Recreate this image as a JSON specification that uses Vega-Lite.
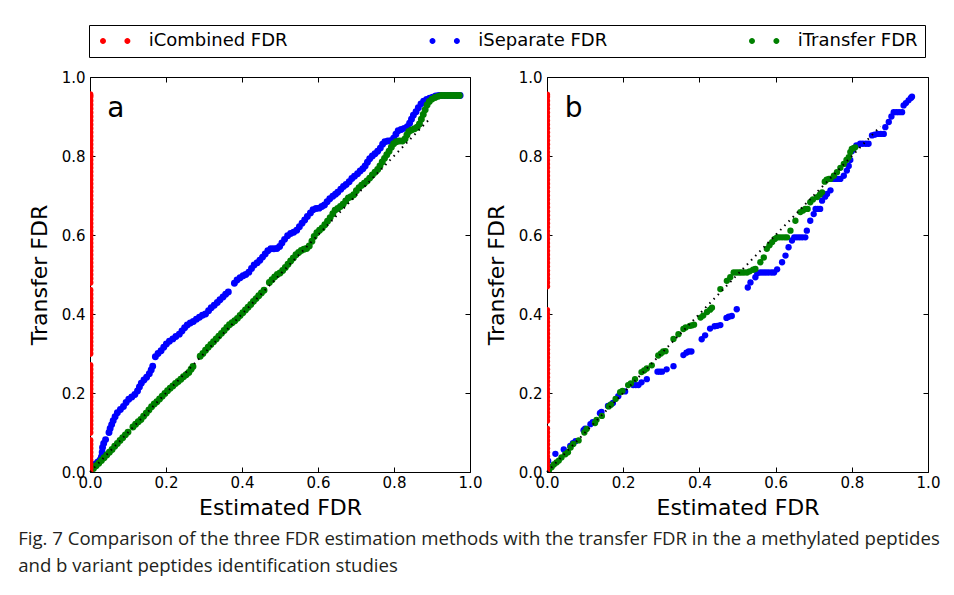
{
"$schema": "https://vega.github.io/schema/vega-lite/v6.json",
"padding": {"left": 18, "top": 24, "right": 10, "bottom": 10},
"datasets": {
"pts": [
{"p":"a","s":"S","x":0.002,"y":0.008},{"p":"a","s":"S","x":0.008,"y":0.014},{"p":"a","s":"S","x":0.014,"y":0.02},{"p":"a","s":"S","x":0.02,"y":0.025},{"p":"a","s":"S","x":0.026,"y":0.03},{"p":"a","s":"S","x":0.03,"y":0.038},{"p":"a","s":"S","x":0.032,"y":0.05},{"p":"a","s":"S","x":0.033,"y":0.062},{"p":"a","s":"S","x":0.036,"y":0.072},{"p":"a","s":"S","x":0.041,"y":0.082},
{"p":"a","s":"S","x":0.05,"y":0.1},{"p":"a","s":"S","x":0.053,"y":0.11},{"p":"a","s":"S","x":0.057,"y":0.12},{"p":"a","s":"S","x":0.061,"y":0.13},{"p":"a","s":"S","x":0.066,"y":0.14},{"p":"a","s":"S","x":0.072,"y":0.15},{"p":"a","s":"S","x":0.08,"y":0.158},{"p":"a","s":"S","x":0.088,"y":0.166},{"p":"a","s":"S","x":0.095,"y":0.176},{"p":"a","s":"S","x":0.102,"y":0.184},
{"p":"a","s":"S","x":0.11,"y":0.19},{"p":"a","s":"S","x":0.118,"y":0.196},{"p":"a","s":"S","x":0.125,"y":0.205},{"p":"a","s":"S","x":0.13,"y":0.215},{"p":"a","s":"S","x":0.135,"y":0.225},{"p":"a","s":"S","x":0.142,"y":0.233},{"p":"a","s":"S","x":0.149,"y":0.24},{"p":"a","s":"S","x":0.156,"y":0.249},{"p":"a","s":"S","x":0.161,"y":0.258},{"p":"a","s":"S","x":0.165,"y":0.268},
{"p":"a","s":"S","x":0.172,"y":0.292},{"p":"a","s":"S","x":0.179,"y":0.3},{"p":"a","s":"S","x":0.187,"y":0.307},{"p":"a","s":"S","x":0.194,"y":0.316},{"p":"a","s":"S","x":0.201,"y":0.324},{"p":"a","s":"S","x":0.209,"y":0.331},{"p":"a","s":"S","x":0.218,"y":0.337},{"p":"a","s":"S","x":0.226,"y":0.343},{"p":"a","s":"S","x":0.235,"y":0.349},{"p":"a","s":"S","x":0.242,"y":0.357},
{"p":"a","s":"S","x":0.249,"y":0.365},{"p":"a","s":"S","x":0.256,"y":0.372},{"p":"a","s":"S","x":0.264,"y":0.377},{"p":"a","s":"S","x":0.272,"y":0.381},{"p":"a","s":"S","x":0.28,"y":0.387},{"p":"a","s":"S","x":0.288,"y":0.392},{"p":"a","s":"S","x":0.296,"y":0.397},{"p":"a","s":"S","x":0.304,"y":0.4},{"p":"a","s":"S","x":0.312,"y":0.408},{"p":"a","s":"S","x":0.319,"y":0.416},
{"p":"a","s":"S","x":0.327,"y":0.422},{"p":"a","s":"S","x":0.335,"y":0.429},{"p":"a","s":"S","x":0.342,"y":0.436},{"p":"a","s":"S","x":0.35,"y":0.443},{"p":"a","s":"S","x":0.357,"y":0.45},{"p":"a","s":"S","x":0.364,"y":0.456},
{"p":"a","s":"S","x":0.38,"y":0.478},{"p":"a","s":"S","x":0.387,"y":0.486},{"p":"a","s":"S","x":0.395,"y":0.492},{"p":"a","s":"S","x":0.403,"y":0.497},{"p":"a","s":"S","x":0.41,"y":0.5},{"p":"a","s":"S","x":0.418,"y":0.506},{"p":"a","s":"S","x":0.425,"y":0.515},{"p":"a","s":"S","x":0.432,"y":0.524},{"p":"a","s":"S","x":0.44,"y":0.53},{"p":"a","s":"S","x":0.447,"y":0.536},
{"p":"a","s":"S","x":0.454,"y":0.544},{"p":"a","s":"S","x":0.461,"y":0.552},{"p":"a","s":"S","x":0.468,"y":0.56},{"p":"a","s":"S","x":0.476,"y":0.565},{"p":"a","s":"S","x":0.484,"y":0.565},{"p":"a","s":"S","x":0.492,"y":0.566},{"p":"a","s":"S","x":0.499,"y":0.571},{"p":"a","s":"S","x":0.505,"y":0.58},{"p":"a","s":"S","x":0.512,"y":0.589},{"p":"a","s":"S","x":0.52,"y":0.598},
{"p":"a","s":"S","x":0.528,"y":0.604},{"p":"a","s":"S","x":0.536,"y":0.607},{"p":"a","s":"S","x":0.544,"y":0.612},{"p":"a","s":"S","x":0.551,"y":0.621},{"p":"a","s":"S","x":0.558,"y":0.63},{"p":"a","s":"S","x":0.565,"y":0.638},{"p":"a","s":"S","x":0.572,"y":0.647},{"p":"a","s":"S","x":0.58,"y":0.656},{"p":"a","s":"S","x":0.587,"y":0.664},{"p":"a","s":"S","x":0.595,"y":0.667},
{"p":"a","s":"S","x":0.603,"y":0.668},{"p":"a","s":"S","x":0.61,"y":0.672},{"p":"a","s":"S","x":0.617,"y":0.676},{"p":"a","s":"S","x":0.624,"y":0.684},{"p":"a","s":"S","x":0.631,"y":0.692},{"p":"a","s":"S","x":0.639,"y":0.698},{"p":"a","s":"S","x":0.646,"y":0.703},{"p":"a","s":"S","x":0.652,"y":0.708},{"p":"a","s":"S","x":0.66,"y":0.716},{"p":"a","s":"S","x":0.667,"y":0.723},
{"p":"a","s":"S","x":0.674,"y":0.728},{"p":"a","s":"S","x":0.682,"y":0.735},{"p":"a","s":"S","x":0.689,"y":0.743},{"p":"a","s":"S","x":0.696,"y":0.749},{"p":"a","s":"S","x":0.704,"y":0.755},{"p":"a","s":"S","x":0.711,"y":0.762},{"p":"a","s":"S","x":0.718,"y":0.768},{"p":"a","s":"S","x":0.724,"y":0.775},{"p":"a","s":"S","x":0.73,"y":0.784},{"p":"a","s":"S","x":0.736,"y":0.793},
{"p":"a","s":"S","x":0.743,"y":0.8},{"p":"a","s":"S","x":0.75,"y":0.806},{"p":"a","s":"S","x":0.757,"y":0.812},{"p":"a","s":"S","x":0.764,"y":0.82},{"p":"a","s":"S","x":0.77,"y":0.83},{"p":"a","s":"S","x":0.776,"y":0.836},{"p":"a","s":"S","x":0.784,"y":0.838},{"p":"a","s":"S","x":0.792,"y":0.839},{"p":"a","s":"S","x":0.799,"y":0.845},{"p":"a","s":"S","x":0.805,"y":0.855},
{"p":"a","s":"S","x":0.811,"y":0.864},{"p":"a","s":"S","x":0.819,"y":0.867},{"p":"a","s":"S","x":0.827,"y":0.87},{"p":"a","s":"S","x":0.835,"y":0.874},{"p":"a","s":"S","x":0.841,"y":0.883},{"p":"a","s":"S","x":0.846,"y":0.893},{"p":"a","s":"S","x":0.851,"y":0.903},{"p":"a","s":"S","x":0.858,"y":0.912},{"p":"a","s":"S","x":0.864,"y":0.922},{"p":"a","s":"S","x":0.871,"y":0.932},
{"p":"a","s":"S","x":0.878,"y":0.939},{"p":"a","s":"S","x":0.886,"y":0.943},{"p":"a","s":"S","x":0.894,"y":0.946},{"p":"a","s":"S","x":0.902,"y":0.949},{"p":"a","s":"S","x":0.91,"y":0.952},{"p":"a","s":"S","x":0.918,"y":0.953},{"p":"a","s":"S","x":0.926,"y":0.953},{"p":"a","s":"S","x":0.934,"y":0.953},{"p":"a","s":"S","x":0.942,"y":0.953},{"p":"a","s":"S","x":0.95,"y":0.953},
{"p":"a","s":"S","x":0.958,"y":0.953},{"p":"a","s":"S","x":0.966,"y":0.953},{"p":"a","s":"S","x":0.974,"y":0.953},
{"p":"a","s":"T","x":0.002,"y":0.002},{"p":"a","s":"T","x":0.009,"y":0.009},{"p":"a","s":"T","x":0.016,"y":0.016},{"p":"a","s":"T","x":0.023,"y":0.022},{"p":"a","s":"T","x":0.03,"y":0.029},{"p":"a","s":"T","x":0.037,"y":0.036},{"p":"a","s":"T","x":0.044,"y":0.043},{"p":"a","s":"T","x":0.051,"y":0.05},{"p":"a","s":"T","x":0.058,"y":0.057},{"p":"a","s":"T","x":0.065,"y":0.065},
{"p":"a","s":"T","x":0.072,"y":0.072},{"p":"a","s":"T","x":0.079,"y":0.08},{"p":"a","s":"T","x":0.086,"y":0.087},{"p":"a","s":"T","x":0.093,"y":0.094},{"p":"a","s":"T","x":0.1,"y":0.101},
{"p":"a","s":"T","x":0.113,"y":0.114},{"p":"a","s":"T","x":0.12,"y":0.121},{"p":"a","s":"T","x":0.127,"y":0.127},{"p":"a","s":"T","x":0.134,"y":0.133},{"p":"a","s":"T","x":0.141,"y":0.141},{"p":"a","s":"T","x":0.148,"y":0.149},{"p":"a","s":"T","x":0.155,"y":0.157},{"p":"a","s":"T","x":0.162,"y":0.165},{"p":"a","s":"T","x":0.169,"y":0.172},{"p":"a","s":"T","x":0.176,"y":0.178},
{"p":"a","s":"T","x":0.183,"y":0.185},{"p":"a","s":"T","x":0.19,"y":0.192},{"p":"a","s":"T","x":0.197,"y":0.199},{"p":"a","s":"T","x":0.204,"y":0.206},{"p":"a","s":"T","x":0.211,"y":0.212},{"p":"a","s":"T","x":0.218,"y":0.218},{"p":"a","s":"T","x":0.225,"y":0.224},{"p":"a","s":"T","x":0.232,"y":0.229},{"p":"a","s":"T","x":0.239,"y":0.235},{"p":"a","s":"T","x":0.246,"y":0.241},
{"p":"a","s":"T","x":0.253,"y":0.246},{"p":"a","s":"T","x":0.26,"y":0.252},{"p":"a","s":"T","x":0.266,"y":0.26},{"p":"a","s":"T","x":0.271,"y":0.267},
{"p":"a","s":"T","x":0.29,"y":0.293},{"p":"a","s":"T","x":0.297,"y":0.3},{"p":"a","s":"T","x":0.304,"y":0.308},{"p":"a","s":"T","x":0.311,"y":0.316},{"p":"a","s":"T","x":0.318,"y":0.323},{"p":"a","s":"T","x":0.325,"y":0.33},{"p":"a","s":"T","x":0.332,"y":0.337},{"p":"a","s":"T","x":0.339,"y":0.344},{"p":"a","s":"T","x":0.346,"y":0.351},{"p":"a","s":"T","x":0.353,"y":0.358},
{"p":"a","s":"T","x":0.36,"y":0.366},{"p":"a","s":"T","x":0.367,"y":0.373},{"p":"a","s":"T","x":0.374,"y":0.378},{"p":"a","s":"T","x":0.381,"y":0.383},{"p":"a","s":"T","x":0.388,"y":0.389},{"p":"a","s":"T","x":0.395,"y":0.396},{"p":"a","s":"T","x":0.402,"y":0.403},{"p":"a","s":"T","x":0.409,"y":0.41},{"p":"a","s":"T","x":0.416,"y":0.417},{"p":"a","s":"T","x":0.423,"y":0.424},
{"p":"a","s":"T","x":0.43,"y":0.432},{"p":"a","s":"T","x":0.437,"y":0.439},{"p":"a","s":"T","x":0.444,"y":0.446},{"p":"a","s":"T","x":0.451,"y":0.453},{"p":"a","s":"T","x":0.458,"y":0.46},
{"p":"a","s":"T","x":0.472,"y":0.48},{"p":"a","s":"T","x":0.479,"y":0.487},{"p":"a","s":"T","x":0.486,"y":0.494},{"p":"a","s":"T","x":0.493,"y":0.5},{"p":"a","s":"T","x":0.5,"y":0.504},{"p":"a","s":"T","x":0.507,"y":0.51},{"p":"a","s":"T","x":0.514,"y":0.518},{"p":"a","s":"T","x":0.521,"y":0.526},{"p":"a","s":"T","x":0.528,"y":0.534},{"p":"a","s":"T","x":0.535,"y":0.542},
{"p":"a","s":"T","x":0.542,"y":0.55},{"p":"a","s":"T","x":0.549,"y":0.556},{"p":"a","s":"T","x":0.556,"y":0.561},{"p":"a","s":"T","x":0.563,"y":0.564},{"p":"a","s":"T","x":0.57,"y":0.566},{"p":"a","s":"T","x":0.577,"y":0.572},{"p":"a","s":"T","x":0.584,"y":0.584},{"p":"a","s":"T","x":0.59,"y":0.596},{"p":"a","s":"T","x":0.597,"y":0.606},{"p":"a","s":"T","x":0.604,"y":0.612},
{"p":"a","s":"T","x":0.611,"y":0.618},{"p":"a","s":"T","x":0.618,"y":0.626},{"p":"a","s":"T","x":0.625,"y":0.635},{"p":"a","s":"T","x":0.632,"y":0.644},{"p":"a","s":"T","x":0.639,"y":0.654},{"p":"a","s":"T","x":0.645,"y":0.663},{"p":"a","s":"T","x":0.652,"y":0.667},{"p":"a","s":"T","x":0.659,"y":0.672},{"p":"a","s":"T","x":0.666,"y":0.678},{"p":"a","s":"T","x":0.673,"y":0.686},
{"p":"a","s":"T","x":0.68,"y":0.694},{"p":"a","s":"T","x":0.687,"y":0.697},{"p":"a","s":"T","x":0.694,"y":0.702},{"p":"a","s":"T","x":0.701,"y":0.712},{"p":"a","s":"T","x":0.708,"y":0.72},{"p":"a","s":"T","x":0.715,"y":0.726},{"p":"a","s":"T","x":0.722,"y":0.731},{"p":"a","s":"T","x":0.729,"y":0.737},{"p":"a","s":"T","x":0.736,"y":0.744},{"p":"a","s":"T","x":0.743,"y":0.752},
{"p":"a","s":"T","x":0.75,"y":0.759},{"p":"a","s":"T","x":0.757,"y":0.766},{"p":"a","s":"T","x":0.763,"y":0.775},{"p":"a","s":"T","x":0.769,"y":0.785},{"p":"a","s":"T","x":0.775,"y":0.794},{"p":"a","s":"T","x":0.781,"y":0.803},{"p":"a","s":"T","x":0.787,"y":0.812},{"p":"a","s":"T","x":0.793,"y":0.822},{"p":"a","s":"T","x":0.799,"y":0.831},{"p":"a","s":"T","x":0.806,"y":0.836},
{"p":"a","s":"T","x":0.814,"y":0.838},{"p":"a","s":"T","x":0.822,"y":0.838},{"p":"a","s":"T","x":0.829,"y":0.843},{"p":"a","s":"T","x":0.834,"y":0.853},{"p":"a","s":"T","x":0.839,"y":0.862},{"p":"a","s":"T","x":0.846,"y":0.866},{"p":"a","s":"T","x":0.854,"y":0.869},{"p":"a","s":"T","x":0.861,"y":0.873},{"p":"a","s":"T","x":0.867,"y":0.881},{"p":"a","s":"T","x":0.872,"y":0.893},
{"p":"a","s":"T","x":0.877,"y":0.905},{"p":"a","s":"T","x":0.882,"y":0.917},{"p":"a","s":"T","x":0.887,"y":0.929},{"p":"a","s":"T","x":0.893,"y":0.938},{"p":"a","s":"T","x":0.9,"y":0.944},{"p":"a","s":"T","x":0.908,"y":0.948},{"p":"a","s":"T","x":0.916,"y":0.951},{"p":"a","s":"T","x":0.924,"y":0.953},{"p":"a","s":"T","x":0.932,"y":0.953},{"p":"a","s":"T","x":0.94,"y":0.953},
{"p":"a","s":"T","x":0.948,"y":0.953},{"p":"a","s":"T","x":0.956,"y":0.953},{"p":"a","s":"T","x":0.964,"y":0.953},{"p":"a","s":"T","x":0.972,"y":0.953},
{"p":"a","s":"C","x":0,"y":0},{"p":"a","s":"C","x":0,"y":0.01},{"p":"a","s":"C","x":0,"y":0.02},{"p":"a","s":"C","x":0,"y":0.03},{"p":"a","s":"C","x":0,"y":0.04},{"p":"a","s":"C","x":0,"y":0.05},{"p":"a","s":"C","x":0,"y":0.06},{"p":"a","s":"C","x":0,"y":0.07},{"p":"a","s":"C","x":0,"y":0.08},{"p":"a","s":"C","x":0,"y":0.1},
{"p":"a","s":"C","x":0,"y":0.11},{"p":"a","s":"C","x":0,"y":0.12},{"p":"a","s":"C","x":0,"y":0.13},{"p":"a","s":"C","x":0,"y":0.14},{"p":"a","s":"C","x":0,"y":0.15},{"p":"a","s":"C","x":0,"y":0.16},{"p":"a","s":"C","x":0,"y":0.17},{"p":"a","s":"C","x":0,"y":0.18},{"p":"a","s":"C","x":0,"y":0.19},{"p":"a","s":"C","x":0,"y":0.2},
{"p":"a","s":"C","x":0,"y":0.21},{"p":"a","s":"C","x":0,"y":0.22},{"p":"a","s":"C","x":0,"y":0.23},{"p":"a","s":"C","x":0,"y":0.24},{"p":"a","s":"C","x":0,"y":0.25},{"p":"a","s":"C","x":0,"y":0.26},{"p":"a","s":"C","x":0,"y":0.27},{"p":"a","s":"C","x":0,"y":0.3},{"p":"a","s":"C","x":0,"y":0.31},{"p":"a","s":"C","x":0,"y":0.32},
{"p":"a","s":"C","x":0,"y":0.33},{"p":"a","s":"C","x":0,"y":0.34},{"p":"a","s":"C","x":0,"y":0.35},{"p":"a","s":"C","x":0,"y":0.36},{"p":"a","s":"C","x":0,"y":0.37},{"p":"a","s":"C","x":0,"y":0.38},{"p":"a","s":"C","x":0,"y":0.39},{"p":"a","s":"C","x":0,"y":0.4},{"p":"a","s":"C","x":0,"y":0.41},{"p":"a","s":"C","x":0,"y":0.42},
{"p":"a","s":"C","x":0,"y":0.43},{"p":"a","s":"C","x":0,"y":0.44},{"p":"a","s":"C","x":0,"y":0.45},{"p":"a","s":"C","x":0,"y":0.46},{"p":"a","s":"C","x":0,"y":0.48},{"p":"a","s":"C","x":0,"y":0.49},{"p":"a","s":"C","x":0,"y":0.5},{"p":"a","s":"C","x":0,"y":0.51},{"p":"a","s":"C","x":0,"y":0.52},{"p":"a","s":"C","x":0,"y":0.53},
{"p":"a","s":"C","x":0,"y":0.54},{"p":"a","s":"C","x":0,"y":0.55},{"p":"a","s":"C","x":0,"y":0.56},{"p":"a","s":"C","x":0,"y":0.57},{"p":"a","s":"C","x":0,"y":0.58},{"p":"a","s":"C","x":0,"y":0.59},{"p":"a","s":"C","x":0,"y":0.6},{"p":"a","s":"C","x":0,"y":0.61},{"p":"a","s":"C","x":0,"y":0.62},{"p":"a","s":"C","x":0,"y":0.63},
{"p":"a","s":"C","x":0,"y":0.64},{"p":"a","s":"C","x":0,"y":0.65},{"p":"a","s":"C","x":0,"y":0.66},{"p":"a","s":"C","x":0,"y":0.67},{"p":"a","s":"C","x":0,"y":0.68},{"p":"a","s":"C","x":0,"y":0.69},{"p":"a","s":"C","x":0,"y":0.7},{"p":"a","s":"C","x":0,"y":0.71},{"p":"a","s":"C","x":0,"y":0.72},{"p":"a","s":"C","x":0,"y":0.73},
{"p":"a","s":"C","x":0,"y":0.74},{"p":"a","s":"C","x":0,"y":0.75},{"p":"a","s":"C","x":0,"y":0.76},{"p":"a","s":"C","x":0,"y":0.77},{"p":"a","s":"C","x":0,"y":0.78},{"p":"a","s":"C","x":0,"y":0.79},{"p":"a","s":"C","x":0,"y":0.8},{"p":"a","s":"C","x":0,"y":0.81},{"p":"a","s":"C","x":0,"y":0.82},{"p":"a","s":"C","x":0,"y":0.83},
{"p":"a","s":"C","x":0,"y":0.84},{"p":"a","s":"C","x":0,"y":0.85},{"p":"a","s":"C","x":0,"y":0.86},{"p":"a","s":"C","x":0,"y":0.87},{"p":"a","s":"C","x":0,"y":0.88},{"p":"a","s":"C","x":0,"y":0.89},{"p":"a","s":"C","x":0,"y":0.9},{"p":"a","s":"C","x":0,"y":0.91},{"p":"a","s":"C","x":0,"y":0.92},{"p":"a","s":"C","x":0,"y":0.93},
{"p":"a","s":"C","x":0,"y":0.94},{"p":"a","s":"C","x":0,"y":0.95},{"p":"a","s":"C","x":0,"y":0.955},
{"p":"b","s":"S","x":0.003,"y":0.005},{"p":"b","s":"S","x":0.003,"y":0.015},{"p":"b","s":"S","x":0.003,"y":0.028},{"p":"b","s":"S","x":0.022,"y":0.046},{"p":"b","s":"S","x":0.044,"y":0.057},{"p":"b","s":"S","x":0.061,"y":0.066},{"p":"b","s":"S","x":0.068,"y":0.073},{"p":"b","s":"S","x":0.075,"y":0.078},{"p":"b","s":"S","x":0.096,"y":0.106},{"p":"b","s":"S","x":0.1,"y":0.11},
{"p":"b","s":"S","x":0.114,"y":0.121},{"p":"b","s":"S","x":0.12,"y":0.126},{"p":"b","s":"S","x":0.139,"y":0.149},{"p":"b","s":"S","x":0.143,"y":0.152},{"p":"b","s":"S","x":0.16,"y":0.167},{"p":"b","s":"S","x":0.167,"y":0.17},{"p":"b","s":"S","x":0.173,"y":0.175},{"p":"b","s":"S","x":0.187,"y":0.192},{"p":"b","s":"S","x":0.205,"y":0.204},{"p":"b","s":"S","x":0.226,"y":0.22},
{"p":"b","s":"S","x":0.233,"y":0.22},{"p":"b","s":"S","x":0.24,"y":0.22},{"p":"b","s":"S","x":0.248,"y":0.227},{"p":"b","s":"S","x":0.262,"y":0.235},{"p":"b","s":"S","x":0.29,"y":0.254},{"p":"b","s":"S","x":0.296,"y":0.254},{"p":"b","s":"S","x":0.302,"y":0.254},{"p":"b","s":"S","x":0.314,"y":0.26},{"p":"b","s":"S","x":0.332,"y":0.268},{"p":"b","s":"S","x":0.358,"y":0.296},
{"p":"b","s":"S","x":0.366,"y":0.302},{"p":"b","s":"S","x":0.372,"y":0.305},{"p":"b","s":"S","x":0.379,"y":0.305},{"p":"b","s":"S","x":0.406,"y":0.336},{"p":"b","s":"S","x":0.415,"y":0.346},{"p":"b","s":"S","x":0.428,"y":0.363},{"p":"b","s":"S","x":0.44,"y":0.369},{"p":"b","s":"S","x":0.447,"y":0.37},{"p":"b","s":"S","x":0.455,"y":0.372},{"p":"b","s":"S","x":0.471,"y":0.39},
{"p":"b","s":"S","x":0.477,"y":0.393},{"p":"b","s":"S","x":0.485,"y":0.395},{"p":"b","s":"S","x":0.498,"y":0.412},{"p":"b","s":"S","x":0.527,"y":0.467},{"p":"b","s":"S","x":0.534,"y":0.48},{"p":"b","s":"S","x":0.547,"y":0.493},{"p":"b","s":"S","x":0.552,"y":0.503},{"p":"b","s":"S","x":0.56,"y":0.505},{"p":"b","s":"S","x":0.567,"y":0.505},{"p":"b","s":"S","x":0.574,"y":0.505},
{"p":"b","s":"S","x":0.581,"y":0.505},{"p":"b","s":"S","x":0.589,"y":0.505},{"p":"b","s":"S","x":0.596,"y":0.505},{"p":"b","s":"S","x":0.604,"y":0.513},{"p":"b","s":"S","x":0.617,"y":0.531},{"p":"b","s":"S","x":0.626,"y":0.548},{"p":"b","s":"S","x":0.634,"y":0.569},{"p":"b","s":"S","x":0.643,"y":0.586},{"p":"b","s":"S","x":0.649,"y":0.594},{"p":"b","s":"S","x":0.656,"y":0.594},
{"p":"b","s":"S","x":0.663,"y":0.594},{"p":"b","s":"S","x":0.67,"y":0.594},{"p":"b","s":"S","x":0.678,"y":0.594},{"p":"b","s":"S","x":0.682,"y":0.611},{"p":"b","s":"S","x":0.691,"y":0.636},{"p":"b","s":"S","x":0.7,"y":0.653},{"p":"b","s":"S","x":0.705,"y":0.666},{"p":"b","s":"S","x":0.711,"y":0.666},{"p":"b","s":"S","x":0.717,"y":0.666},{"p":"b","s":"S","x":0.722,"y":0.687},
{"p":"b","s":"S","x":0.73,"y":0.697},{"p":"b","s":"S","x":0.735,"y":0.704},{"p":"b","s":"S","x":0.744,"y":0.713},{"p":"b","s":"S","x":0.748,"y":0.742},{"p":"b","s":"S","x":0.755,"y":0.742},{"p":"b","s":"S","x":0.762,"y":0.742},{"p":"b","s":"S","x":0.77,"y":0.742},{"p":"b","s":"S","x":0.779,"y":0.75},{"p":"b","s":"S","x":0.787,"y":0.763},{"p":"b","s":"S","x":0.792,"y":0.775},
{"p":"b","s":"S","x":0.796,"y":0.79},{"p":"b","s":"S","x":0.8,"y":0.812},{"p":"b","s":"S","x":0.806,"y":0.82},{"p":"b","s":"S","x":0.812,"y":0.827},{"p":"b","s":"S","x":0.822,"y":0.831},{"p":"b","s":"S","x":0.829,"y":0.831},{"p":"b","s":"S","x":0.837,"y":0.831},{"p":"b","s":"S","x":0.844,"y":0.831},{"p":"b","s":"S","x":0.853,"y":0.852},{"p":"b","s":"S","x":0.86,"y":0.854},
{"p":"b","s":"S","x":0.868,"y":0.856},{"p":"b","s":"S","x":0.876,"y":0.856},{"p":"b","s":"S","x":0.884,"y":0.856},{"p":"b","s":"S","x":0.888,"y":0.873},{"p":"b","s":"S","x":0.897,"y":0.886},{"p":"b","s":"S","x":0.904,"y":0.9},{"p":"b","s":"S","x":0.91,"y":0.911},{"p":"b","s":"S","x":0.917,"y":0.911},{"p":"b","s":"S","x":0.924,"y":0.911},{"p":"b","s":"S","x":0.932,"y":0.911},
{"p":"b","s":"S","x":0.936,"y":0.928},{"p":"b","s":"S","x":0.942,"y":0.934},{"p":"b","s":"S","x":0.949,"y":0.941},{"p":"b","s":"S","x":0.955,"y":0.947},{"p":"b","s":"S","x":0.958,"y":0.95},
{"p":"b","s":"T","x":0.005,"y":0.004},{"p":"b","s":"T","x":0.012,"y":0.012},{"p":"b","s":"T","x":0.018,"y":0.019},{"p":"b","s":"T","x":0.025,"y":0.024},{"p":"b","s":"T","x":0.031,"y":0.029},{"p":"b","s":"T","x":0.038,"y":0.037},{"p":"b","s":"T","x":0.048,"y":0.045},{"p":"b","s":"T","x":0.055,"y":0.05},{"p":"b","s":"T","x":0.062,"y":0.062},{"p":"b","s":"T","x":0.069,"y":0.071},
{"p":"b","s":"T","x":0.083,"y":0.08},{"p":"b","s":"T","x":0.098,"y":0.1},{"p":"b","s":"T","x":0.104,"y":0.109},{"p":"b","s":"T","x":0.126,"y":0.124},{"p":"b","s":"T","x":0.13,"y":0.132},{"p":"b","s":"T","x":0.144,"y":0.142},{"p":"b","s":"T","x":0.162,"y":0.166},{"p":"b","s":"T","x":0.168,"y":0.171},{"p":"b","s":"T","x":0.18,"y":0.185},{"p":"b","s":"T","x":0.192,"y":0.202},
{"p":"b","s":"T","x":0.198,"y":0.205},{"p":"b","s":"T","x":0.213,"y":0.22},{"p":"b","s":"T","x":0.22,"y":0.224},{"p":"b","s":"T","x":0.231,"y":0.235},{"p":"b","s":"T","x":0.248,"y":0.253},{"p":"b","s":"T","x":0.255,"y":0.257},{"p":"b","s":"T","x":0.262,"y":0.262},{"p":"b","s":"T","x":0.275,"y":0.27},{"p":"b","s":"T","x":0.292,"y":0.295},{"p":"b","s":"T","x":0.299,"y":0.3},
{"p":"b","s":"T","x":0.305,"y":0.305},{"p":"b","s":"T","x":0.311,"y":0.306},{"p":"b","s":"T","x":0.332,"y":0.337},{"p":"b","s":"T","x":0.345,"y":0.349},{"p":"b","s":"T","x":0.358,"y":0.362},{"p":"b","s":"T","x":0.364,"y":0.366},{"p":"b","s":"T","x":0.375,"y":0.37},{"p":"b","s":"T","x":0.38,"y":0.371},{"p":"b","s":"T","x":0.386,"y":0.373},{"p":"b","s":"T","x":0.403,"y":0.391},
{"p":"b","s":"T","x":0.41,"y":0.396},{"p":"b","s":"T","x":0.42,"y":0.405},{"p":"b","s":"T","x":0.428,"y":0.411},{"p":"b","s":"T","x":0.433,"y":0.416},{"p":"b","s":"T","x":0.455,"y":0.463},{"p":"b","s":"T","x":0.472,"y":0.484},{"p":"b","s":"T","x":0.481,"y":0.493},{"p":"b","s":"T","x":0.49,"y":0.505},{"p":"b","s":"T","x":0.497,"y":0.505},{"p":"b","s":"T","x":0.504,"y":0.505},
{"p":"b","s":"T","x":0.51,"y":0.505},{"p":"b","s":"T","x":0.517,"y":0.505},{"p":"b","s":"T","x":0.525,"y":0.505},{"p":"b","s":"T","x":0.532,"y":0.508},{"p":"b","s":"T","x":0.541,"y":0.512},{"p":"b","s":"T","x":0.547,"y":0.514},{"p":"b","s":"T","x":0.56,"y":0.531},{"p":"b","s":"T","x":0.569,"y":0.543},{"p":"b","s":"T","x":0.577,"y":0.565},{"p":"b","s":"T","x":0.584,"y":0.574},
{"p":"b","s":"T","x":0.591,"y":0.582},{"p":"b","s":"T","x":0.598,"y":0.59},{"p":"b","s":"T","x":0.604,"y":0.594},{"p":"b","s":"T","x":0.61,"y":0.594},{"p":"b","s":"T","x":0.617,"y":0.594},{"p":"b","s":"T","x":0.624,"y":0.594},{"p":"b","s":"T","x":0.63,"y":0.594},{"p":"b","s":"T","x":0.639,"y":0.611},{"p":"b","s":"T","x":0.652,"y":0.636},{"p":"b","s":"T","x":0.665,"y":0.658},
{"p":"b","s":"T","x":0.672,"y":0.662},{"p":"b","s":"T","x":0.678,"y":0.666},{"p":"b","s":"T","x":0.684,"y":0.666},{"p":"b","s":"T","x":0.691,"y":0.683},{"p":"b","s":"T","x":0.698,"y":0.69},{"p":"b","s":"T","x":0.709,"y":0.696},{"p":"b","s":"T","x":0.716,"y":0.702},{"p":"b","s":"T","x":0.722,"y":0.708},{"p":"b","s":"T","x":0.729,"y":0.735},{"p":"b","s":"T","x":0.734,"y":0.74},
{"p":"b","s":"T","x":0.74,"y":0.742},{"p":"b","s":"T","x":0.744,"y":0.742},{"p":"b","s":"T","x":0.753,"y":0.75},{"p":"b","s":"T","x":0.761,"y":0.759},{"p":"b","s":"T","x":0.77,"y":0.77},{"p":"b","s":"T","x":0.779,"y":0.78},{"p":"b","s":"T","x":0.786,"y":0.79},{"p":"b","s":"T","x":0.792,"y":0.797},{"p":"b","s":"T","x":0.796,"y":0.81},{"p":"b","s":"T","x":0.8,"y":0.818},
{"p":"b","s":"T","x":0.805,"y":0.82},{"p":"b","s":"T","x":0.809,"y":0.822},
{"p":"b","s":"C","x":0,"y":0},{"p":"b","s":"C","x":0,"y":0.01},{"p":"b","s":"C","x":0,"y":0.02},{"p":"b","s":"C","x":0,"y":0.03},{"p":"b","s":"C","x":0,"y":0.04},{"p":"b","s":"C","x":0,"y":0.05},{"p":"b","s":"C","x":0,"y":0.06},{"p":"b","s":"C","x":0,"y":0.07},{"p":"b","s":"C","x":0,"y":0.08},{"p":"b","s":"C","x":0,"y":0.09},
{"p":"b","s":"C","x":0,"y":0.1},{"p":"b","s":"C","x":0,"y":0.11},{"p":"b","s":"C","x":0,"y":0.13},{"p":"b","s":"C","x":0,"y":0.14},{"p":"b","s":"C","x":0,"y":0.15},{"p":"b","s":"C","x":0,"y":0.16},{"p":"b","s":"C","x":0,"y":0.17},{"p":"b","s":"C","x":0,"y":0.18},{"p":"b","s":"C","x":0,"y":0.19},{"p":"b","s":"C","x":0,"y":0.2},
{"p":"b","s":"C","x":0,"y":0.21},{"p":"b","s":"C","x":0,"y":0.22},{"p":"b","s":"C","x":0,"y":0.23},{"p":"b","s":"C","x":0,"y":0.24},{"p":"b","s":"C","x":0,"y":0.25},{"p":"b","s":"C","x":0,"y":0.26},{"p":"b","s":"C","x":0,"y":0.27},{"p":"b","s":"C","x":0,"y":0.28},{"p":"b","s":"C","x":0,"y":0.29},{"p":"b","s":"C","x":0,"y":0.3},
{"p":"b","s":"C","x":0,"y":0.31},{"p":"b","s":"C","x":0,"y":0.32},{"p":"b","s":"C","x":0,"y":0.33},{"p":"b","s":"C","x":0,"y":0.34},{"p":"b","s":"C","x":0,"y":0.35},{"p":"b","s":"C","x":0,"y":0.36},{"p":"b","s":"C","x":0,"y":0.37},{"p":"b","s":"C","x":0,"y":0.38},{"p":"b","s":"C","x":0,"y":0.39},{"p":"b","s":"C","x":0,"y":0.4},
{"p":"b","s":"C","x":0,"y":0.41},{"p":"b","s":"C","x":0,"y":0.47},{"p":"b","s":"C","x":0,"y":0.48},{"p":"b","s":"C","x":0,"y":0.49},{"p":"b","s":"C","x":0,"y":0.5},{"p":"b","s":"C","x":0,"y":0.51},{"p":"b","s":"C","x":0,"y":0.52},{"p":"b","s":"C","x":0,"y":0.53},{"p":"b","s":"C","x":0,"y":0.54},{"p":"b","s":"C","x":0,"y":0.55},
{"p":"b","s":"C","x":0,"y":0.56},{"p":"b","s":"C","x":0,"y":0.57},{"p":"b","s":"C","x":0,"y":0.58},{"p":"b","s":"C","x":0,"y":0.59},{"p":"b","s":"C","x":0,"y":0.6},{"p":"b","s":"C","x":0,"y":0.61},{"p":"b","s":"C","x":0,"y":0.62},{"p":"b","s":"C","x":0,"y":0.63},{"p":"b","s":"C","x":0,"y":0.64},{"p":"b","s":"C","x":0,"y":0.65},
{"p":"b","s":"C","x":0,"y":0.66},{"p":"b","s":"C","x":0,"y":0.67},{"p":"b","s":"C","x":0,"y":0.68},{"p":"b","s":"C","x":0,"y":0.69},{"p":"b","s":"C","x":0,"y":0.7},{"p":"b","s":"C","x":0,"y":0.71},{"p":"b","s":"C","x":0,"y":0.72},{"p":"b","s":"C","x":0,"y":0.73},{"p":"b","s":"C","x":0,"y":0.74},{"p":"b","s":"C","x":0,"y":0.75},
{"p":"b","s":"C","x":0,"y":0.76},{"p":"b","s":"C","x":0,"y":0.77},{"p":"b","s":"C","x":0,"y":0.78},{"p":"b","s":"C","x":0,"y":0.79},{"p":"b","s":"C","x":0,"y":0.8},{"p":"b","s":"C","x":0,"y":0.81},{"p":"b","s":"C","x":0,"y":0.82},{"p":"b","s":"C","x":0,"y":0.83},{"p":"b","s":"C","x":0,"y":0.84},{"p":"b","s":"C","x":0,"y":0.85},
{"p":"b","s":"C","x":0,"y":0.86},{"p":"b","s":"C","x":0,"y":0.87},{"p":"b","s":"C","x":0,"y":0.88},{"p":"b","s":"C","x":0,"y":0.89},{"p":"b","s":"C","x":0,"y":0.9},{"p":"b","s":"C","x":0,"y":0.91},{"p":"b","s":"C","x":0,"y":0.92},{"p":"b","s":"C","x":0,"y":0.93},{"p":"b","s":"C","x":0,"y":0.94},{"p":"b","s":"C","x":0,"y":0.95},
{"p":"b","s":"C","x":0,"y":0.955}
],
"diag": [
{"p":"a","x":0,"y":0},{"p":"a","x":0.895,"y":0.895},
{"p":"b","x":0,"y":0},{"p":"b","x":0.875,"y":0.875}
],
"lbl": [
{"p":"a","t":"a","x":0.068,"y":0.92},
{"p":"b","t":"b","x":0.07,"y":0.92}
]
},
"title": {
"text": ["Fig. 7  Comparison of the three FDR estimation methods with the transfer FDR in the a methylated peptides", "and b variant peptides identification studies"],
"orient": "bottom",
"anchor": "start",
"frame": "bounds",
"font": "Open Sans",
"fontSize": 18.6,
"fontWeight": "normal",
"color": "#231f20",
"lineHeight": 27,
"offset": 12,
"dx": -10
},
"spacing": 3,
"hconcat": [
{
"width": 380, "height": 395,
"resolve": {"axis": {"x": "independent", "y": "independent"}},
"layer": [
{
"data": {"name": "pts"},
"transform": [{"filter": "datum.p === 'a'"}],
"mark": {"type": "point", "filled": true, "size": 48, "opacity": 1, "strokeWidth": 0, "clip": true},
"encoding": {
"x": {"field": "x", "type": "quantitative", "scale": {"domain": [0, 1], "nice": false, "zero": false}, "axis": {"orient": "bottom", "title": "Estimated FDR", "values": [0, 0.2, 0.4, 0.6, 0.8, 1.0], "labelPadding": 8, "titlePadding": 7}},
"y": {"field": "y", "type": "quantitative", "scale": {"domain": [0, 1], "nice": false, "zero": false}, "axis": {"orient": "left", "title": "Transfer FDR", "values": [0, 0.2, 0.4, 0.6, 0.8, 1.0], "labelPadding": 10, "titlePadding": 10}},
"color": {"field": "s", "type": "nominal", "scale": {"domain": ["C", "S", "T"], "range": ["#ff0000", "#0000ff", "#008000"]},
"legend": {"orient": "none", "legendX": -1, "legendY": -52, "direction": "horizontal", "columns": 3, "title": null,
"labelExpr": "{'C': 'iCombined FDR', 'S': 'iSeparate FDR', 'T': 'iTransfer FDR'}[datum.label]"}}
}
},
{
"data": {"name": "diag"},
"transform": [{"filter": "datum.p === 'a'"}],
"mark": {"type": "line", "color": "black", "strokeWidth": 2, "strokeDash": [1.5, 4.5]},
"encoding": {
"x": {"field": "x", "type": "quantitative", "axis": {"orient": "top", "labels": false, "title": null, "values": [0, 0.2, 0.4, 0.6, 0.8, 1.0]}},
"y": {"field": "y", "type": "quantitative", "axis": {"orient": "right", "labels": false, "title": null, "values": [0, 0.2, 0.4, 0.6, 0.8, 1.0]}}
}
},
{
"data": {"name": "lbl"},
"transform": [{"filter": "datum.p === 'a'"}],
"mark": {"type": "text", "font": "DejaVu Sans", "fontSize": 28, "color": "black", "align": "center", "baseline": "middle"},
"encoding": {
"x": {"field": "x", "type": "quantitative", "axis": null},
"y": {"field": "y", "type": "quantitative", "axis": null},
"text": {"field": "t"}
}
}
]
},
{
"width": 381, "height": 395,
"resolve": {"axis": {"x": "independent", "y": "independent"}},
"layer": [
{
"data": {"name": "pts"},
"transform": [{"filter": "datum.p === 'b'"}],
"mark": {"type": "point", "filled": true, "size": 40, "opacity": 1, "strokeWidth": 0, "clip": true},
"encoding": {
"x": {"field": "x", "type": "quantitative", "scale": {"domain": [0, 1], "nice": false, "zero": false}, "axis": {"orient": "bottom", "title": "Estimated FDR", "values": [0, 0.2, 0.4, 0.6, 0.8, 1.0], "labelPadding": 8, "titlePadding": 7}},
"y": {"field": "y", "type": "quantitative", "scale": {"domain": [0, 1], "nice": false, "zero": false}, "axis": {"orient": "left", "title": "Transfer FDR", "values": [0, 0.2, 0.4, 0.6, 0.8, 1.0], "labelPadding": 10, "titlePadding": 10}},
"color": {"field": "s", "type": "nominal", "scale": {"domain": ["C", "S", "T"], "range": ["#ff0000", "#0000ff", "#008000"]}, "legend": null}
}
},
{
"data": {"name": "diag"},
"transform": [{"filter": "datum.p === 'b'"}],
"mark": {"type": "line", "color": "black", "strokeWidth": 2, "strokeDash": [1.5, 4.5]},
"encoding": {
"x": {"field": "x", "type": "quantitative", "axis": {"orient": "top", "labels": false, "title": null, "values": [0, 0.2, 0.4, 0.6, 0.8, 1.0]}},
"y": {"field": "y", "type": "quantitative", "axis": {"orient": "right", "labels": false, "title": null, "values": [0, 0.2, 0.4, 0.6, 0.8, 1.0]}}
}
},
{
"data": {"name": "lbl"},
"transform": [{"filter": "datum.p === 'b'"}],
"mark": {"type": "text", "font": "DejaVu Sans", "fontSize": 28, "color": "black", "align": "center", "baseline": "middle"},
"encoding": {
"x": {"field": "x", "type": "quantitative", "axis": null},
"y": {"field": "y", "type": "quantitative", "axis": null},
"text": {"field": "t"}
}
}
]
}
],
"config": {
"view": {"stroke": null},
"axis": {
"format": ".1f",
"grid": false,
"domainColor": "black",
"domainWidth": 1,
"tickColor": "black",
"tickSize": -5,
"tickWidth": 1,
"labelFont": "DejaVu Sans",
"labelFontSize": 15,
"labelColor": "black",
"labelFlush": false,
"labelOverlap": false,
"titleFont": "DejaVu Sans",
"titleFontSize": 22,
"titleFontWeight": "normal",
"titleColor": "black"
},
"legend": {
"symbolType": "M -0.555 0 A 0.333 0.333 0 1 0 0.111 0 A 0.333 0.333 0 1 0 -0.555 0 Z M 2.156 0 A 0.333 0.333 0 1 0 2.822 0 A 0.333 0.333 0 1 0 2.156 0 Z",
"symbolSize": 324,
"symbolStrokeWidth": 0,
"labelFont": "DejaVu Sans",
"labelFontSize": 18,
"labelColor": "black",
"labelOffset": 34.7,
"columnPadding": 137.5,
"padding": 7,
"strokeColor": "black",
"fillColor": "white",
"labelLimit": 400
}
}
}
